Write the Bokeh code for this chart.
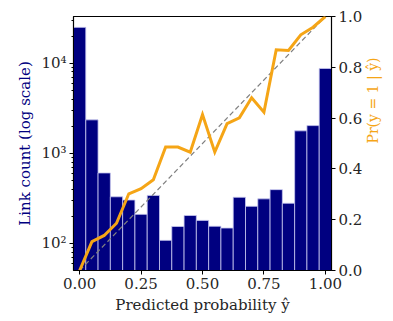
import math
from bokeh.plotting import figure
from bokeh.models import Range1d, LinearAxis, FixedTicker, LinearScale, NumeralTickFormatter
from bokeh.embed import file_html
from bokeh.resources import INLINE

# ---- data ----
bin_centers = [0.00, 0.05, 0.10, 0.15, 0.20, 0.25, 0.30, 0.35, 0.40, 0.45, 0.50,
               0.55, 0.60, 0.65, 0.70, 0.75, 0.80, 0.85, 0.90, 0.95, 1.00]
link_counts = [25000, 2350, 605, 329, 303, 210, 341, 108, 154, 204, 180,
               155, 148, 325, 258, 312, 395, 279, 1775, 2030, 8740]
pr_positive = [0.0, 0.114, 0.138, 0.186, 0.302, 0.322, 0.357, 0.486, 0.486, 0.466, 0.614,
               0.466, 0.578, 0.601, 0.680, 0.623, 0.869, 0.866, 0.928, 0.958, 1.0]
diag_x = [0.0, 1.0]
diag_y = [0.0, 1.0]
x_ticks = [0.0, 0.25, 0.5, 0.75, 1.0]
x_tick_labels = {0.0: "0.00", 0.25: "0.25", 0.5: "0.50", 0.75: "0.75", 1.0: "1.00"}
log_ticks = [100, 1000, 10000]
log_tick_labels = {100: "10²", 1000: "10³", 10000: "10⁴"}
log_minor = [60, 70, 80, 90, 200, 300, 400, 500, 600, 700, 800, 900,
             2000, 3000, 4000, 5000, 6000, 7000, 8000, 9000, 20000, 30000]
right_ticks = [0.0, 0.2, 0.4, 0.6, 0.8, 1.0]
bin_width = 0.05

FONT = "DejaVu Serif"
TXT = "#262626"
ORANGE = "#f5a516"

p = figure(width=392, height=320, x_range=Range1d(-0.025, 1.025),
           y_range=Range1d(50, 33000), y_axis_type="log",
           output_backend="svg", toolbar_location=None,
           min_border_left=73, min_border_right=58, min_border_top=16, min_border_bottom=50)
p.extra_y_ranges = {"pr": Range1d(0, 1)}
p.extra_y_scales = {"pr": LinearScale()}

p.grid.visible = False
p.outline_line_color = "black"
p.outline_line_width = 1.2
p.background_fill_color = "white"
p.border_fill_color = "white"

p.vbar(x=bin_centers, top=link_counts, bottom=1, width=bin_width,
       fill_color="#000080", line_color="#c8c8f0", line_width=0.8)

p.line(diag_x, diag_y, y_range_name="pr", line_color="#808080",
       line_dash="5 3", line_width=1.2)
p.line(bin_centers, pr_positive, y_range_name="pr", line_color=ORANGE,
       line_width=3, line_join="miter")

# x axis
xa = p.xaxis[0]
xa.ticker = FixedTicker(ticks=x_ticks)
xa.major_label_overrides = x_tick_labels
xa.axis_label = "Predicted probability ŷ"

# left axis
ya = p.yaxis[0]
ya.ticker = FixedTicker(ticks=log_ticks, minor_ticks=log_minor)
ya.major_label_overrides = log_tick_labels
ya.axis_label = "Link count (log scale)"
ya.axis_label_text_color = "navy"

# right axis
ra = LinearAxis(y_range_name="pr", ticker=FixedTicker(ticks=right_ticks),
                formatter=NumeralTickFormatter(format="0.0"),
                axis_label="Pr(y = 1 | ŷ)")
p.add_layout(ra, "right")
ra.axis_label_text_color = ORANGE
try:
    ra.axis_label_orientation = math.pi / 2
except Exception:
    pass

for ax in [xa, ya, ra]:
    ax.major_label_text_font = FONT
    ax.major_label_text_font_size = "15px"
    ax.major_label_text_color = TXT
    ax.axis_label_text_font = FONT
    ax.axis_label_text_font_size = "15px"
    ax.axis_label_text_font_style = "normal"
    ax.axis_line_color = "black"
    ax.major_tick_line_color = "black"
    ax.major_tick_out = 4
    ax.major_tick_in = 0
    ax.minor_tick_out = 2
    ax.minor_tick_in = 0
    ax.major_label_standoff = 3
    ax.axis_label_standoff = 4
xa.axis_label_text_color = TXT
xa.minor_tick_line_color = None
ra.minor_tick_line_color = None
ya.minor_tick_line_color = "black"
ra.axis_label_text_font_size = "14px"
ra.axis_label_standoff = 8

open("out.html", "w").write(file_html(p, INLINE))
